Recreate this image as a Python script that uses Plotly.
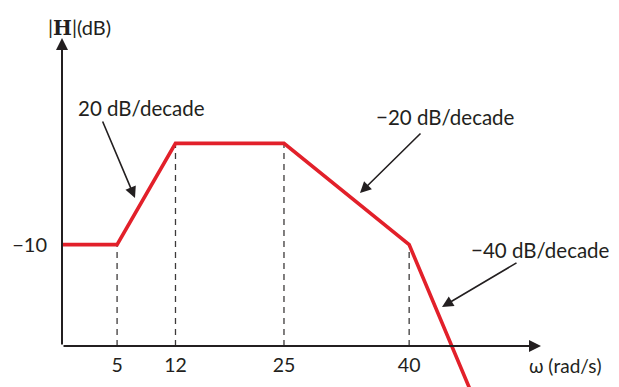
import plotly.graph_objects as go

# Asymptotic magnitude plot (schematic Bode plot)
omega = [-1.6, 5, 12, 25, 40, 47.3]      # rad/s
mag_db = [-10, -10, 0, 0, -10, -24.3]    # dB

corner_freqs = [5, 12, 25, 40]
corner_mags = [-10, 0, 0, -10]
tick_labels = ["5", "12", "25", "40"]

axis_y = -20          # where the omega axis crosses
x_range = [-1.6, 55.8]
y_range = [-24.05, 10.4]

ink = "#231f20"
red = "#e2202a"
font_family = "Lato, 'Open Sans', sans-serif"

W, H = 619, 387
L, R, T, B = 62, 78, 38, 0
pw, ph = W - L - R, H - T - B


def px(xp):
    return (xp - L) / pw


def py(yp):
    return (H - B - yp) / ph


# pixel -> data, for placing the arrow annotations
def dx(xp):
    return x_range[0] + px(xp) * (x_range[1] - x_range[0])


def dy(yp):
    return y_range[0] + py(yp) * (y_range[1] - y_range[0])


fig = go.Figure()

# dashed drop lines from the axis to each corner
for f, m in zip(corner_freqs, corner_mags):
    fig.add_trace(go.Scatter(
        x=[f, f], y=[axis_y, m], mode="lines",
        line=dict(color="#3d3a3a", width=1.3, dash="6px,5px"),
        hoverinfo="skip", showlegend=False
    ))

# the magnitude curve
fig.add_trace(go.Scatter(
    x=omega, y=mag_db, mode="lines",
    line=dict(color=red, width=3.6),
    showlegend=False
))

annotations = []

# axes with arrow heads
annotations.append(dict(
    x=x_range[1], y=axis_y, ax=x_range[0], ay=axis_y,
    xref="x", yref="y", axref="x", ayref="y",
    showarrow=True, arrowhead=2, arrowsize=1.2, arrowwidth=2, arrowcolor=ink, text=""
))
annotations.append(dict(
    x=x_range[0], y=y_range[1], ax=x_range[0], ay=axis_y,
    xref="x", yref="y", axref="x", ayref="y",
    showarrow=True, arrowhead=2, arrowsize=1.2, arrowwidth=2, arrowcolor=ink, text=""
))

# axis titles
annotations.append(dict(
    x=px(46), y=py(27), xref="paper", yref="paper", xanchor="left", yanchor="middle",
    text="|<span style='font-family:DejaVu Serif'><b>H</b></span>|(dB)",
    showarrow=False, font=dict(size=20, color=ink, family=font_family)
))
annotations.append(dict(
    x=px(527), y=py(365), xref="paper", yref="paper", xanchor="left", yanchor="middle",
    text="ω (rad/s)", showarrow=False, font=dict(size=19, color=ink, family=font_family)
))

# slope labels with arrows: (text, text left px, text center y px, tail px, head px)
slope_notes = [
    ("20 dB/decade", 76, 108, (102, 120), (135, 198)),
    ("−20 dB/decade", 374, 117, (422, 132), (360, 193)),
    ("−40 dB/decade", 469, 250, (518, 262), (442, 307)),
]
for txt, tx, ty, tail, head in slope_notes:
    annotations.append(dict(
        x=px(tx), y=py(ty), xref="paper", yref="paper", xanchor="left", yanchor="middle",
        text=txt, showarrow=False, font=dict(size=20.5, color=ink, family=font_family)
    ))
    annotations.append(dict(
        x=dx(head[0]), y=dy(head[1]), ax=dx(tail[0]), ay=dy(tail[1]),
        xref="x", yref="y", axref="x", ayref="y",
        showarrow=True, arrowhead=2, arrowsize=1.4, arrowwidth=1.6, arrowcolor=ink, text=""
    ))

fig.update_layout(
    width=W, height=H,
    margin=dict(l=L, r=R, t=T, b=B),
    plot_bgcolor="white", paper_bgcolor="white",
    font=dict(family=font_family, color=ink, size=19),
    annotations=annotations,
    showlegend=False,
)

fig.update_xaxes(
    range=x_range, anchor="free", position=py(346),
    tickvals=corner_freqs, ticktext=tick_labels, ticks="",
    ticklabelstandoff=5,
    showgrid=False, zeroline=False, showline=False,
    tickfont=dict(size=19.5, color=ink)
)
fig.update_yaxes(
    range=y_range,
    tickvals=[-10], ticktext=["−10"], ticks="",
    ticklabelstandoff=14,
    showgrid=False, zeroline=False, showline=False,
    tickfont=dict(size=20, color=ink)
)

# page body has a default 8px margin; drop it so the figure fills the window
fig.write_html(
    "out.html",
    config={"displayModeBar": False},
    post_script="document.body.style.margin='0';document.body.style.overflow='hidden';",
)
